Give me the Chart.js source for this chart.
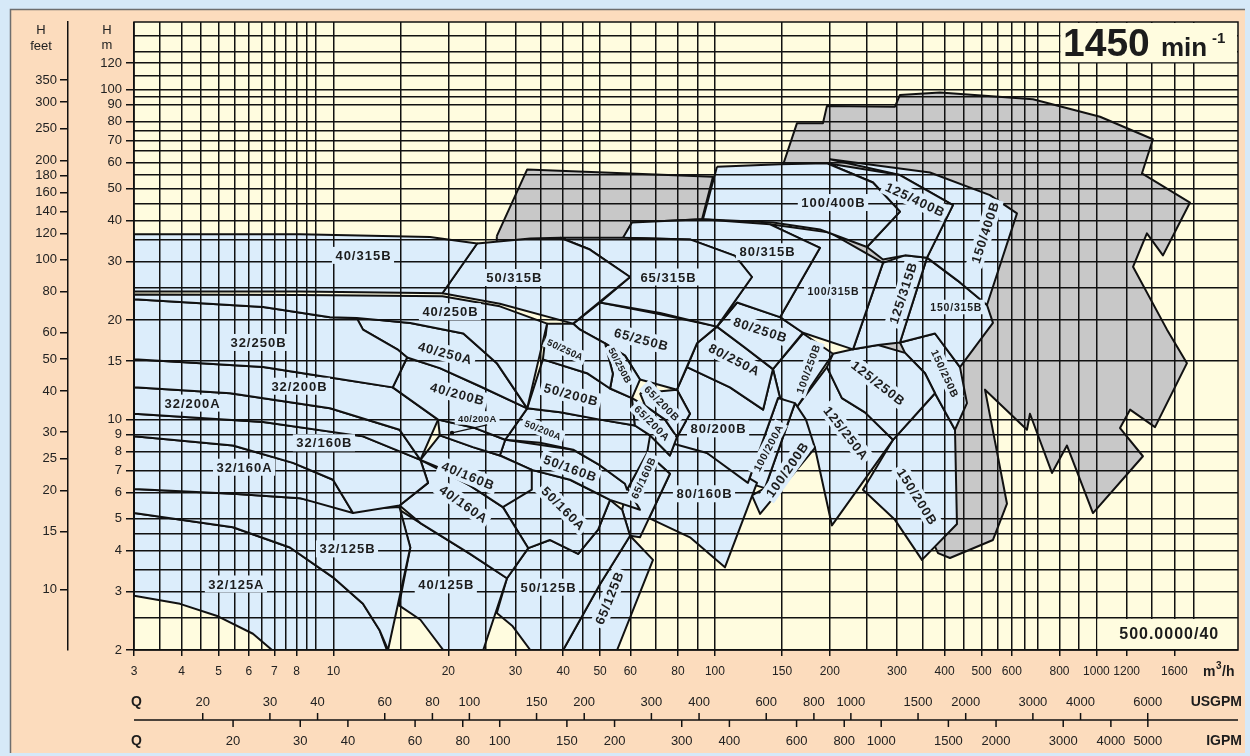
<!DOCTYPE html>
<html>
<head>
<meta charset="utf-8">
<script src="https://cdn.jsdelivr.net/npm/chart.js@4.4.1/dist/chart.umd.min.js"></script>
<style>
  html, body { margin: 0; padding: 0; background: #d6e9f8; }
  #wrap { width: 1250px; height: 756px; }
</style>
</head>
<body>
<div id="wrap"><canvas id="pumpChart" width="1250" height="756"></canvas></div>
<script>
// Pump selection chart 1450 min-1 : Q in m3/h (x), H in m (y), both log

const qGridLines = [3, 3.5, 4, 4.5, 5, 5.5, 6, 6.5, 7, 7.5, 8, 8.5, 9, 10, 15, 20, 25, 30, 35, 40, 45, 50, 60, 70, 80, 90,
  100, 150, 200, 250, 300, 350, 400, 450, 500, 550, 600, 650, 700, 800, 900, 1000, 1200, 1400, 1600, 1800];
const qTickLabels = [3, 4, 5, 6, 7, 8, 10, 20, 30, 40, 50, 60, 80, 100, 150, 200, 300, 400, 500, 600, 800, 1000, 1200, 1600];
const hGridLines = [2, 2.5, 3, 3.5, 4, 4.5, 5, 6, 7, 8, 9, 10, 15, 20, 25, 30, 35, 40, 45, 50, 55, 60, 65, 70, 75, 80, 90, 95, 100, 110, 120, 130, 145];
const hTickLabels = [2, 3, 4, 5, 6, 7, 8, 9, 10, 15, 20, 30, 40, 50, 60, 70, 80, 90, 100, 120];
const feetTickLabels = [10, 15, 20, 25, 30, 40, 50, 60, 80, 100, 120, 140, 160, 180, 200, 250, 300, 350];
const usgpmTicks = [20, 30, 40, 60, 80, 100, 150, 200, 300, 400, 600, 800, 1000, 1500, 2000, 3000, 4000, 6000];
const igpmTicks = [20, 30, 40, 60, 80, 100, 150, 200, 300, 400, 600, 800, 1000, 1500, 2000, 3000, 4000, 5000];

const M_TO_FT = 3.2808;
const M3H_TO_USGPM = 4.4029;
const M3H_TO_IGPM = 3.6662;

// pump working areas, [Q m3/h, H m] outline points
const r40_315B = [[3,36.4],[8.17,36.4],[17.9,35.7],[23.8,34.1],[19.3,24.1],[8.17,24.4],[3,24.4]];
const r50_315B = [[23.8,34.1],[32.8,35.3],[39.3,35.5],[47.0,32.7],[59.9,27.0],[42.5,19.5],[27.3,22.4],[19.3,24.1]];
const r65_315B = [[39.3,35.5],[57.4,35.5],[86.0,35.1],[112.9,31.3],[125,27.0],[101.2,19.1],[71.8,21.0],[50.0,22.6],[59.9,27.0],[47.0,32.7]];
const r80_315B = [[60.6,39.5],[92.5,40.4],[139.4,39.0],[188.5,33.1],[148.1,20.4],[114.3,22.6],[101.2,19.1],[125,27.0],[112.9,31.3],[86.0,35.1],[57.4,35.5]];
const r100_400B = [[101.2,58.3],[148.1,59.3],[196.6,59.7],[259.5,52.2],[305.5,42.6],[250.3,33.3],[188.5,37.6],[141.9,39.5],[93.0,40.4]];
const r125_400B = [[196.6,59.7],[305.5,55.0],[420.6,44.6],[359.6,30.9],[314.9,31.4],[275.7,30.5],[250.3,33.3],[305.5,42.6],[259.5,52.2]];
const r150_400B = [[200.2,61.4],[366.1,56.0],[525.9,47.8],[619,42.1],[516.5,22.2],[438.8,26.0],[359.6,30.9],[420.6,44.6],[305.5,55.0]];
const r100_315B = [[139.4,39.0],[200.2,36.8],[275.7,29.8],[230.1,16.3],[170.1,18.3],[148.1,20.4],[188.5,33.1]];
const r125_315B = [[275.7,29.8],[314.9,31.4],[359.6,30.9],[305.5,17.1],[267.5,16.8],[230.1,16.3]];
const r150_315B = [[359.6,30.9],[438.8,26.0],[516.5,22.2],[535.5,19.6],[438.8,14.4],[377.4,18.2],[305.5,17.1]];
const r40_250B = [[3,23.9],[8.17,23.8],[19.3,23.6],[27.3,22.0],[36.3,19.5],[32.2,10.8],[26.8,14.8],[21.9,18.2],[15.9,19.6],[11.5,20.3],[9.79,20.4],[6.54,21.9],[3,23.1]];
const r32_250B = [[3,23.1],[6.54,21.9],[9.79,20.4],[11.5,20.3],[11.95,18.7],[14.7,16.3],[15.6,15.4],[14.3,12.5],[9.79,13.4],[6.54,14.4],[3,15.2]];
const r40_250A = [[11.5,20.3],[15.9,19.6],[21.9,18.2],[26.8,14.8],[32.2,10.8],[24.2,12.6],[19.0,14.3],[15.6,15.4],[14.7,16.3],[11.95,18.7]];
const r40_200B = [[15.6,15.4],[19.0,14.3],[24.2,12.6],[32.2,10.8],[28.2,8.67],[23.5,9.41],[18.8,9.98],[14.3,12.5]];
const r40_200A = [[18.8,9.98],[23.5,9.41],[28.2,8.67],[27.3,7.77],[23.2,8.24],[19.0,8.94]];
const r32_200B = [[3,15.2],[6.54,14.4],[9.79,13.4],[14.3,12.5],[18.8,9.98],[16.9,7.54],[14.9,9.30],[9.79,10.8],[5.36,12.0],[3,12.5]];
const r32_200A = [[3,12.5],[5.36,12.0],[9.79,10.8],[14.9,9.30],[16.9,7.54],[11.95,8.88],[6.54,9.82],[3,10.4]];
const r32_160B = [[3,10.4],[6.54,9.82],[11.95,8.88],[16.9,7.54],[17.7,6.42],[14.9,5.48],[11.25,5.20],[9.97,6.56],[7.83,7.38],[5.45,8.33],[3,8.88]];
const r32_160A = [[3,8.88],[5.45,8.33],[7.83,7.38],[9.97,6.56],[11.25,5.20],[8.17,5.77],[5.45,5.95],[3,6.15]];
const r32_125B = [[3,6.15],[5.45,5.95],[8.17,5.77],[11.25,5.32],[14.9,5.42],[15.9,4.09],[13.9,2.0],[13.2,2.30],[11.95,2.76],[9.97,3.32],[7.69,4.09],[5.45,4.71],[3,5.20]];
const r32_125A = [[3,5.20],[5.45,4.71],[7.69,4.09],[9.97,3.32],[11.95,2.76],[13.2,2.30],[13.8,2.0],[6.90,2.0],[6.15,2.24],[4.98,2.53],[3.96,2.76],[3,2.92]];
const r40_160B = [[19.0,8.94],[23.2,8.24],[27.3,7.77],[33.1,7.03],[33.1,6.12],[27.8,5.42],[22.8,6.30],[19.0,7.12],[16.9,7.54]];
const r40_160A = [[16.9,7.54],[22.8,6.30],[27.8,5.42],[32.4,4.07],[28.5,3.30],[22.8,3.91],[16.9,4.85],[14.9,5.48],[17.7,6.42]];
const r40_125B = [[14.9,5.32],[16.9,4.85],[22.8,3.91],[28.5,3.30],[24.7,2.0],[19.4,2.0],[16.9,2.47],[14.85,2.73],[15.9,4.09]];
const r50_250A = [[36.3,19.5],[42.5,19.5],[44.3,18.7],[51.5,17.0],[54.0,13.75],[53.1,12.4],[46.2,13.8],[35.4,15.2]];
const r50_250B = [[51.5,17.0],[58.1,15.6],[63.6,13.2],[60.6,11.6],[53.1,12.4],[54.0,13.75]];
const r65_250B = [[42.5,19.5],[50.0,22.6],[71.8,20.8],[101.2,19.1],[89.7,17.0],[79.5,12.3],[63.6,13.2],[58.1,15.6],[51.5,17.0],[44.3,18.7]];
const r80_250B = [[101.2,19.1],[114.3,22.6],[148.1,20.4],[170.1,18.3],[141.9,14.2],[119.8,16.5]];
const r80_250A = [[89.7,17.0],[101.2,19.1],[119.8,16.5],[141.9,14.2],[133.7,10.7],[109.5,12.5],[84.5,14.4]];
const r65_200B = [[63.6,12.0],[79.5,12.3],[86.0,10.4],[79.5,8.83],[74.0,9.98],[65.6,11.0]];
const r65_200A = [[60.6,11.6],[65.6,11.0],[74.0,9.98],[79.5,8.83],[76.2,7.77],[67.6,8.94],[61.7,9.58]];
const r50_200B = [[35.4,15.2],[46.2,13.8],[53.1,12.4],[60.6,11.6],[61.7,9.58],[50.0,9.98],[39.3,10.5],[32.2,10.8]];
const r50_200A = [[32.2,10.8],[39.3,10.5],[50.0,9.98],[61.7,9.58],[67.6,8.94],[66.4,7.91],[58.8,6.12],[58.1,6.38],[50.0,7.25],[42.5,8.09],[34.8,8.49],[28.2,8.67]];
const r50_160B = [[28.2,8.67],[42.5,8.09],[50.0,7.25],[58.1,6.38],[63.6,5.32],[53.1,5.70],[41.7,6.56],[33.1,7.03],[27.3,7.77]];
const r50_160A = [[33.1,7.03],[41.7,6.56],[53.1,5.70],[49.4,4.63],[43.8,3.91],[36.9,4.31],[32.4,4.07],[27.8,5.42]];
const r50_125B = [[32.4,4.07],[36.9,4.31],[43.8,3.91],[49.4,4.63],[53.1,5.70],[57.1,5.32],[59.9,4.44],[50.0,3.17],[40.0,2.0],[32.8,2.0],[29.4,2.37],[26.8,2.59],[28.5,3.30]];
const r65_125B = [[59.9,4.44],[68.8,3.75],[55.4,2.0],[40.0,2.0],[50.0,3.17]];
const r65_160B = [[66.4,7.91],[76.2,6.84],[63.6,4.39],[59.9,4.44],[57.1,5.32],[58.8,6.12]];
const r80_200B = [[84.5,14.4],[109.5,12.5],[133.7,10.7],[141.9,14.2],[148.1,11.6],[146.3,11.6],[122,6.42],[95.3,7.91],[76.2,8.49],[79.5,8.83],[86.0,10.4],[79.5,12.3]];
const r80_160B = [[67.6,8.94],[76.2,7.77],[79.5,8.83],[95.3,7.91],[128.9,6.42],[106.2,3.56],[86.0,4.39],[67.2,5.02],[76.2,6.84],[66.4,7.91],[65.6,8.44]];
const r100_200A = [[146.3,11.6],[162.1,11.2],[135.2,6.19],[122,6.42]];
const r100_200B = [[162.1,11.2],[173.2,9.98],[182.9,8.19],[131.3,5.17],[125,5.88],[135.2,6.19]];
const r100_250B = [[170.1,18.2],[203.9,15.8],[164,10.9],[148.1,11.6],[141.9,14.2]];
const r125_250B = [[203.9,15.8],[230.1,16.3],[267.5,16.8],[314.9,15.9],[355.2,13.8],[377.4,12.0],[292.9,8.67],[247.3,10.5],[215.2,11.6],[196.6,14.4]];
const r125_250A = [[164,10.9],[196.6,14.4],[215.2,11.6],[247.3,10.5],[292.9,8.67],[202.6,4.77],[182.9,8.19]];
const r150_250B = [[305.5,17.1],[377.4,18.2],[438.8,14.4],[457.7,11.2],[425.8,9.30],[377.4,12.0],[355.2,13.8],[314.9,15.9]];
const r150_200B = [[292.9,8.67],[377.4,12.0],[425.8,9.30],[430.9,4.82],[348.8,3.75],[296.4,4.96],[244.3,6.12]];

// grey extension areas behind the blue ones
const greyLeft = [[26.8,35.9],[32.2,57.2],[98.8,54.3],[92.5,40.4],[60.6,39.5],[57.4,35.1],[39.3,33.7],[26.8,33.7]];
const greyRight = [[150.8,59.0],[164,78.9],[191.9,78.9],[196.6,89.1],[296.4,88.6],[305.5,96.2],[388.9,97.9],[681.8,93.3],
  [1022,82.6],[1406,70.6],[1316,55.6],[1759,45.4],[1494,31.4],[1356,36.6],[1247,29.0],[1531,18.7],[1727,14.8],
  [1424,9.47],[1225,10.7],[1153,9.41],[1324,7.73],[979.3,5.20],[837.1,8.33],[764.6,6.88],[669.5,10.4],[657.5,9.30],
  [510.3,12.3],[582.8,5.55],[535.5,4.31],[413.1,3.80],[384.3,3.93],[305.5,7.03],[262.7,9.98],[239.9,11.5],
  [254.9,18.7],[167,32.7],[148.1,46.4]];

const bluePumps = [
  ['40/315B', r40_315B], ['50/315B', r50_315B], ['65/315B', r65_315B], ['80/315B', r80_315B],
  ['100/400B', r100_400B], ['125/400B', r125_400B], ['150/400B', r150_400B],
  ['100/315B', r100_315B], ['125/315B', r125_315B], ['150/315B', r150_315B],
  ['40/250B', r40_250B], ['32/250B', r32_250B], ['40/250A', r40_250A], ['40/200B', r40_200B], ['40/200A', r40_200A],
  ['32/200B', r32_200B], ['32/200A', r32_200A], ['32/160B', r32_160B], ['32/160A', r32_160A],
  ['32/125B', r32_125B], ['32/125A', r32_125A], ['40/160B', r40_160B], ['40/160A', r40_160A], ['40/125B', r40_125B],
  ['50/250A', r50_250A], ['50/250B', r50_250B], ['65/250B', r65_250B], ['80/250B', r80_250B], ['80/250A', r80_250A],
  ['65/200B', r65_200B], ['65/200A', r65_200A], ['50/200B', r50_200B], ['50/200A', r50_200A],
  ['50/160B', r50_160B], ['50/160A', r50_160A], ['50/125B', r50_125B], ['65/125B', r65_125B], ['65/160B', r65_160B],
  ['80/200B', r80_200B], ['80/160B', r80_160B], ['100/200A', r100_200A], ['100/200B', r100_200B],
  ['100/250B', r100_250B], ['125/250B', r125_250B], ['125/250A', r125_250A], ['150/250B', r150_250B], ['150/200B', r150_200B]
];
const greyAreas = [greyLeft, greyRight];

// where each type name sits, [Q, H]
const labelAt = {
  '40/315B': [11.95, 31.4], '50/315B': [29.7, 26.9], '65/315B': [75.3, 27.0], '80/315B': [136.9, 32.2],
  '100/400B': [203.9, 45.4], '125/400B': [334.4, 46.4], '150/400B': [510, 36.8],
  '100/315B': [203.9, 24.4], '125/315B': [311, 24.1], '150/315B': [428, 21.9],
  '40/250B': [20.2, 21.2], '32/250B': [6.34, 17.1], '40/250A': [19.6, 15.9],
  '50/250A': [40.5, 16.3], '50/250B': [56.4, 14.6], '65/250B': [64.0, 17.5],
  '80/250B': [131.3, 18.7], '80/250A': [112.2, 15.2], '100/250B': [175.3, 14.2],
  '125/250B': [267.5, 12.9], '150/250B': [400.8, 13.8],
  '32/200B': [8.12, 12.6], '40/200B': [21.1, 11.96], '40/200A': [23.8, 10.1],
  '50/200B': [41.9, 11.9], '65/200B': [72.6, 11.2], '65/200A': [68.4, 9.76], '80/200B': [101.9, 9.36],
  '50/200A': [35.4, 9.30], '32/200A': [4.26, 11.2], '32/160B': [9.44, 8.49], '32/160A': [5.83, 7.16],
  '40/160B': [22.5, 6.76], '40/160A': [21.9, 5.55], '50/160B': [41.7, 7.12], '50/160A': [40.0, 5.38],
  '65/160B': [64.8, 6.64], '80/160B': [93.6, 5.95], '100/200A': [137.7, 8.19], '100/200B': [154.5, 7.03],
  '125/250A': [220.5, 9.10], '150/200B': [338.5, 5.84],
  '32/125B': [10.85, 4.05], '32/125A': [5.55, 3.17], '40/125B': [19.7, 3.15], '50/125B': [36.5, 3.10], '65/125B': [52.8, 2.87]
};
const leaderPoint40_200A = [20.45, 9.10];

// label styling
const labelAngle = {
  '125/400B': 25, '150/400B': -72, '125/315B': -72, '40/250A': 15, '50/250A': 25, '50/250B': 62, '65/250B': 15,
  '80/250B': 18, '80/250A': 27, '100/250B': -70, '125/250B': 38, '150/250B': 65, '40/200B': 15, '50/200B': 15,
  '65/200B': 45, '65/200A': 45, '50/200A': 22, '40/160B': 22, '40/160A': 35, '50/160B': 20, '50/160A': 45,
  '65/160B': -65, '100/200A': -62, '100/200B': -55, '125/250A': 52, '150/200B': 58, '65/125B': -68
};
const smallLabels = ['50/250A', '50/250B', '50/200A', '40/200A'];
const midLabels = ['100/315B', '150/315B', '150/250B', '100/250B', '65/160B', '100/200A', '65/200B', '65/200A'];

const FONT = '"Liberation Sans", Arial, sans-serif';
const BLUE = '#dcedfb', GREY = '#c8c8c8', CREAM = '#fffcdf', PEACH = '#fcdcbd', INK = '#111111', TEXT = '#1c1c1c';

Chart.defaults.font.family = FONT;

function shape(points, color, order) {
  const data = points.map(p => ({ x: p[0], y: p[1] }));
  data.push({ x: points[0][0], y: points[0][1] });
  return {
    data: data,
    order: order,
    fill: 'shape',
    backgroundColor: color,
    borderColor: INK,
    borderWidth: 2,
    borderJoinStyle: 'round',
    pointRadius: 0,
    pointHoverRadius: 0,
    tension: 0
  };
}

function hideUnlabelled(list) {
  return ctx => (ctx.tick && list.includes(ctx.tick.value)) ? INK : 'rgba(0,0,0,0)';
}

const paperPlugin = {
  id: 'paper',
  beforeDraw(chart) {
    const ctx = chart.ctx, a = chart.chartArea;
    ctx.save();
    ctx.fillStyle = '#d6e9f8';
    ctx.fillRect(0, 0, chart.width, chart.height);
    ctx.fillStyle = PEACH;
    ctx.fillRect(11, 10, 1234, 743);
    ctx.strokeStyle = '#6e6e6e';
    ctx.lineWidth = 1.5;
    ctx.beginPath();
    ctx.moveTo(10.5, 753); ctx.lineTo(10.5, 9.5); ctx.lineTo(1245, 9.5);
    ctx.stroke();
    ctx.fillStyle = CREAM;
    ctx.fillRect(a.left, a.top, a.width, a.height);
    ctx.restore();
  }
};

const overlayPlugin = {
  id: 'overlay',
  afterDraw(chart) {
    const ctx = chart.ctx, a = chart.chartArea;
    const xs = chart.scales.x, ys = chart.scales.y;
    ctx.save();

    // plot frame
    ctx.strokeStyle = INK;
    ctx.lineWidth = 1.5;
    ctx.strokeRect(a.left, a.top, a.width, a.height);

    // speed box
    const bx = xs.getPixelForValue(800), by = ys.getPixelForValue(120);
    ctx.fillStyle = CREAM;
    ctx.fillRect(bx + 1, a.top + 1, a.right - bx - 2, by - a.top - 2);
    ctx.fillStyle = TEXT;
    ctx.textBaseline = 'alphabetic';
    ctx.textAlign = 'left';
    ctx.font = 'bold 39px ' + FONT;
    ctx.fillText('1450', 1063, 56);
    ctx.font = 'bold 26px ' + FONT;
    ctx.fillText('min', 1161, 56);
    ctx.font = 'bold 15px ' + FONT;
    ctx.fillText('-1', 1212, 43);

    // curve sheet number box
    const nx = xs.getPixelForValue(1000), ny = ys.getPixelForValue(2.5);
    ctx.fillStyle = CREAM;
    ctx.fillRect(nx + 1, ny + 1, a.right - nx - 2, a.bottom - ny - 2);
    ctx.fillStyle = TEXT;
    ctx.font = 'bold 16px ' + FONT;
    ctx.textAlign = 'center';
    ctx.textBaseline = 'middle';
    if ('letterSpacing' in ctx) ctx.letterSpacing = '1px';
    ctx.fillText('500.0000/40', (nx + a.right) / 2 + 2, (ny + a.bottom) / 2 + 1);

    // type names
    bluePumps.forEach(([name]) => {
      const pos = labelAt[name];
      const px = xs.getPixelForValue(pos[0]), py = ys.getPixelForValue(pos[1]);
      let size = 13, sp = 1;
      if (smallLabels.includes(name)) { size = 9.5; sp = 0.4; }
      else if (midLabels.includes(name)) { size = 10.5; sp = 0.8; }
      ctx.font = 'bold ' + size + 'px ' + FONT;
      if ('letterSpacing' in ctx) ctx.letterSpacing = sp + 'px';
      const w = ctx.measureText(name).width;
      ctx.save();
      ctx.translate(px, py);
      ctx.rotate((labelAngle[name] || 0) * Math.PI / 180);
      ctx.fillStyle = BLUE;
      ctx.fillRect(-w / 2 - 3, -size / 2 - 2, w + 6, size + 4);
      ctx.fillStyle = TEXT;
      ctx.textAlign = 'center';
      ctx.textBaseline = 'middle';
      ctx.fillText(name, sp / 2, 1);
      ctx.restore();
    });
    if ('letterSpacing' in ctx) ctx.letterSpacing = '0px';

    // leader for the narrow 40/200A area
    const lp = labelAt['40/200A'];
    const lx = xs.getPixelForValue(lp[0]), ly = ys.getPixelForValue(lp[1]);
    const dx = xs.getPixelForValue(leaderPoint40_200A[0]), dy = ys.getPixelForValue(leaderPoint40_200A[1]);
    ctx.strokeStyle = INK;
    ctx.lineWidth = 1.2;
    ctx.beginPath();
    ctx.moveTo(lx + 10, ly + 7);
    ctx.lineTo(dx, dy);
    ctx.stroke();
    ctx.fillStyle = INK;
    ctx.beginPath();
    ctx.arc(dx, dy, 2.2, 0, Math.PI * 2);
    ctx.fill();

    // flow in gallons under the m3/h axis
    const lineY = 720;
    ctx.lineWidth = 1.5;
    ctx.beginPath();
    ctx.moveTo(a.left, lineY);
    ctx.lineTo(a.right, lineY);
    ctx.stroke();
    ctx.font = '13px ' + FONT;
    ctx.fillStyle = '#222';
    ctx.textAlign = 'center';
    ctx.textBaseline = 'middle';
    usgpmTicks.forEach(v => {
      const px = xs.getPixelForValue(v / M3H_TO_USGPM);
      ctx.beginPath(); ctx.moveTo(px, lineY - 7); ctx.lineTo(px, lineY); ctx.stroke();
      ctx.fillText(String(v), px, 702);
    });
    igpmTicks.forEach(v => {
      const px = xs.getPixelForValue(v / M3H_TO_IGPM);
      ctx.beginPath(); ctx.moveTo(px, lineY); ctx.lineTo(px, lineY + 7); ctx.stroke();
      ctx.fillText(String(v), px, 741);
    });
    ctx.font = 'bold 14px ' + FONT;
    ctx.fillStyle = TEXT;
    ctx.textAlign = 'left';
    ctx.fillText('Q', 131, 702);
    ctx.fillText('Q', 131, 741);
    ctx.textAlign = 'right';
    ctx.fillText('USGPM', 1242, 702);
    ctx.fillText('IGPM', 1242, 741);

    // units
    ctx.font = 'bold 14px ' + FONT;
    ctx.textAlign = 'left';
    ctx.fillText('m', 1203, 672);
    ctx.font = 'bold 10px ' + FONT;
    ctx.fillText('3', 1216, 666);
    ctx.font = 'bold 14px ' + FONT;
    ctx.fillText('/h', 1222, 672);

    ctx.font = '13px ' + FONT;
    ctx.fillStyle = '#222';
    ctx.textAlign = 'center';
    ctx.fillText('H', 41, 30);
    ctx.fillText('feet', 41, 46);
    ctx.fillText('H', 107, 30);
    ctx.fillText('m', 107, 45);
    ctx.restore();
  }
};

new Chart(document.getElementById('pumpChart'), {
  type: 'line',
  data: {
    datasets: [
      ...bluePumps.map(p => shape(p[1], BLUE, 0)),
      ...greyAreas.map(g => shape(g, GREY, 1))
    ]
  },
  options: {
    responsive: false,
    animation: false,
    devicePixelRatio: 1,
    events: [],
    layout: { padding: { top: 22, right: 12, left: 0, bottom: 0 } },
    plugins: { legend: { display: false }, tooltip: { enabled: false } },
    scales: {
      x: {
        type: 'logarithmic',
        position: 'bottom',
        min: 3,
        max: 2350,
        afterBuildTicks: s => { s.ticks = qGridLines.map(v => ({ value: v })); },
        afterFit: s => { s.height = 106; },
        border: { display: false },
        grid: { z: 1, color: INK, lineWidth: 1.5, tickLength: 6, tickColor: hideUnlabelled(qTickLabels) },
        ticks: {
          autoSkip: false, maxRotation: 0, minRotation: 0, padding: 8, color: '#222', font: { size: 12 },
          callback: v => qTickLabels.includes(v) ? String(v) : ''
        }
      },
      y: {
        type: 'logarithmic',
        position: 'left',
        weight: 0,
        min: 2,
        max: 160,
        afterBuildTicks: s => { s.ticks = hGridLines.map(v => ({ value: v })); },
        afterFit: s => { s.width = 66; },
        border: { display: false },
        grid: { z: 1, color: INK, lineWidth: 1.5, tickLength: 8, tickColor: hideUnlabelled(hTickLabels) },
        ticks: {
          autoSkip: false, padding: 4, color: '#222', font: { size: 13 },
          callback: v => hTickLabels.includes(v) ? String(v) : ''
        }
      },
      yft: {
        type: 'logarithmic',
        position: 'left',
        weight: 1,
        min: 2 * M_TO_FT,
        max: 160 * M_TO_FT,
        afterBuildTicks: s => { s.ticks = feetTickLabels.map(v => ({ value: v })); },
        afterFit: s => { s.width = 68; },
        border: { display: true, color: INK, width: 1.5 },
        grid: { drawOnChartArea: false, color: INK, lineWidth: 1.5, tickLength: 8 },
        ticks: { autoSkip: false, padding: 3, color: '#222', font: { size: 13 }, callback: v => String(v) }
      }
    }
  },
  plugins: [paperPlugin, overlayPlugin]
});
</script>
</body>
</html>
